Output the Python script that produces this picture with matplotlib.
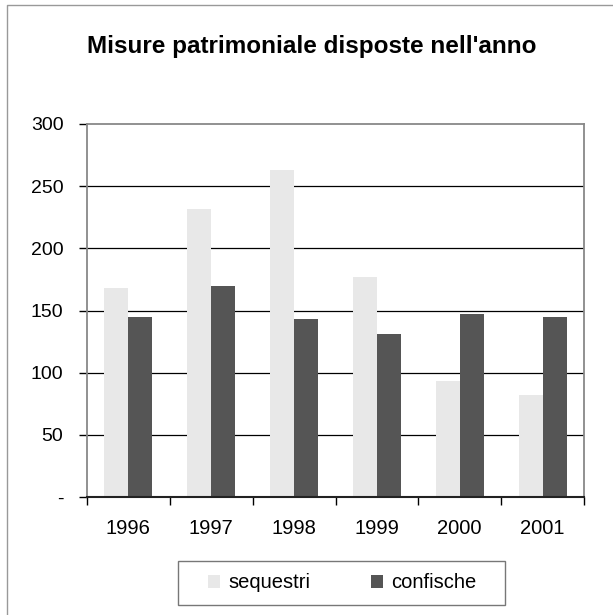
"""
Misure patrimoniali disposte nell'anno: sequestri vs confische, 1996-2001.
"""

import numpy as np
import matplotlib
matplotlib.use("Agg")
import matplotlib.pyplot as plt
from matplotlib.lines import Line2D
from matplotlib.patches import Rectangle

# Data
years = ["1996", "1997", "1998", "1999", "2000", "2001"]
sequestri = [168, 232, 263, 177, 93, 82]
confische = [145, 170, 143, 131, 147, 145]
y_ticks = [0, 50, 100, 150, 200, 250, 300]
y_tick_labels = ["-", "50", "100", "150", "200", "250", "300"]

plt.rcParams["font.family"] = ["Liberation Sans", "DejaVu Sans"]

W, H = 613, 615
fig = plt.figure(figsize=(W / 100, H / 100), dpi=100)
ax = fig.add_axes([87 / W, 1 - 497 / H, 497 / W, 373 / H])

x = np.arange(len(years))
w = 0.29
ax.bar(x - w / 2, sequestri, w, color="#e8e8e8", label="sequestri", zorder=2)
ax.bar(x + w / 2, confische, w, color="#555555", label="confische", zorder=2)

ax.set_xlim(-0.5, len(years) - 0.5)
ax.set_ylim(0, 300)
ax.set_yticks(y_ticks)
ax.set_yticklabels(y_tick_labels, fontsize=14)
ax.set_xticks(x)
ax.set_xticklabels(years, fontsize=14.5)
ax.tick_params(axis="x", length=0, pad=16)
ax.tick_params(axis="y", length=6, width=1, pad=11)

# tick marks between categories
ax.set_xticks(np.arange(-0.5, len(years)), minor=True)
ax.tick_params(axis="x", which="minor", length=6, width=1, direction="out")

for v in y_ticks[1:-1]:
    ax.axhline(v, color="black", linewidth=0.9, zorder=1)

for side in ["top", "right", "left"]:
    ax.spines[side].set_color("#888888")
    ax.spines[side].set_linewidth(1.3)
ax.spines["bottom"].set_color("#222222")
ax.spines["bottom"].set_linewidth(1.5)

fig.text(0.508, 1 - 47 / H, "Misure patrimoniale disposte nell'anno",
         ha="center", va="center", fontsize=17.5, fontweight="bold")

# legend: entries without frame, box drawn separately
leg = fig.legend(loc="center", bbox_to_anchor=(342 / W, 1 - 583 / H),
                 ncol=2, fontsize=14.5, frameon=False,
                 handlelength=0.6, handleheight=0.6,
                 columnspacing=3.0, handletextpad=0.4)
fig.patches.append(Rectangle((178 / W, 1 - 605 / H), 327 / W, 44 / H,
                             transform=fig.transFigure, fill=False,
                             edgecolor="#777777", linewidth=1.0))

# outer chart frame (only left and top survive in the scan)
fig.lines.append(Line2D([7 / W, 7 / W, 1], [0, 1 - 5 / H, 1 - 5 / H],
                        transform=fig.transFigure, color="#999999",
                        linewidth=1.0))

plt.savefig("out.png", dpi=100)
plt.close()
